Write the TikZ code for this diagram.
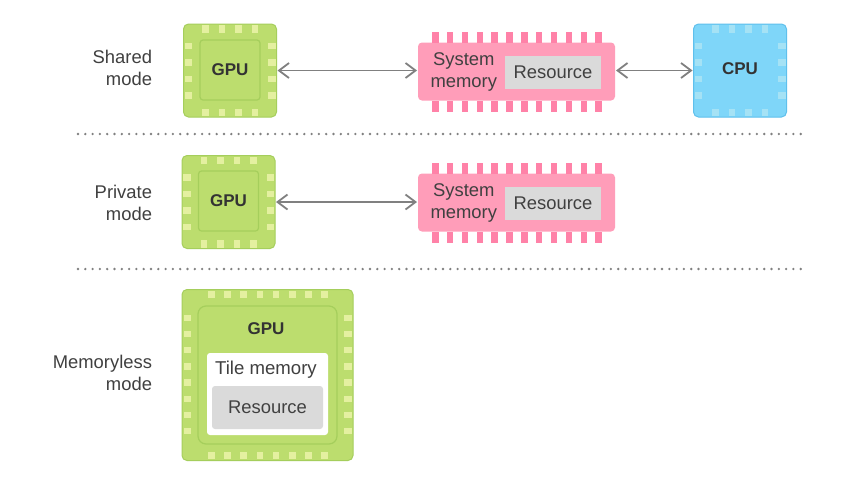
\documentclass[tikz,border=0pt]{standalone}
\usepackage{fontspec}
\setmainfont{Liberation Sans}
\usepackage{xcolor}
\usetikzlibrary{arrows.meta, positioning}

\definecolor{gpufill}{HTML}{BCDD6E}
\definecolor{gpuline}{HTML}{A5CE5C}
\definecolor{gpupad}{HTML}{E4F0A0}
\definecolor{memfill}{HTML}{FF9DB9}
\definecolor{mempin}{HTML}{FF82A8}
\definecolor{cpufill}{HTML}{7FD6F9}
\definecolor{cpuline}{HTML}{5FC0EC}
\definecolor{cpupad}{HTML}{A5E2F5}
\definecolor{resfill}{HTML}{DADADA}
\definecolor{linkgray}{HTML}{808080}

\tikzset{
    every node/.style={font=\fontsize{18.4}{22}\selectfont, text=black!75, outer sep=0pt, inner sep=0pt},
    modelabel/.style={align=right, anchor=east},
    smallchip/.style={minimum width=93pt, minimum height=93pt, rounded corners=5pt, line width=1pt},
    gpuchip/.style={draw=gpuline, fill=gpufill},
    cpuchip/.style={draw=cpuline, fill=cpufill},
    gpucore/.style={draw=gpuline, fill=gpufill, rounded corners=3pt, line width=1.2pt},
    memchip/.style={fill=memfill, rounded corners=4pt, minimum width=197pt, minimum height=58pt},
    resbox/.style={fill=resfill, minimum width=96pt, minimum height=33pt},
    chiptext/.style={font=\fontsize{17}{21}\selectfont\bfseries, text=black!80},
    link/.style={{Straight Barb[length=10pt,width=15pt]}-{Straight Barb[length=10pt,width=15pt]}, draw=linkgray, line width=1.8pt, shorten <=1pt, shorten >=1pt},
    sepline/.style={draw=linkgray, line width=2.6pt, line cap=round, dash pattern=on 0pt off 7.3pt}
}

% pads of a square chip, around its centre
\newcommand{\chippads}[2]{
    \foreach \d in {-25,-8.5,8,24.5} {
        \fill[#2] ([xshift=\d pt-3pt, yshift=38pt]#1.center) rectangle ++(6.5pt,7.5pt);
        \fill[#2] ([xshift=\d pt-3pt, yshift=-45.5pt]#1.center) rectangle ++(6.5pt,7.5pt);
        \fill[#2] ([xshift=-45.5pt, yshift=\d pt-3pt]#1.center) rectangle ++(7.5pt,6.5pt);
        \fill[#2] ([xshift=38pt, yshift=\d pt-3pt]#1.center) rectangle ++(7.5pt,6.5pt);
    }
}
% pins of a memory chip
\newcommand{\mempins}[1]{
    \foreach \i in {0,...,11} {
        \fill[mempin] ([xshift=-84.5pt+14.85pt*\i, yshift=29pt]#1.center) rectangle ++(6.5pt,11pt);
        \fill[mempin] ([xshift=-84.5pt+14.85pt*\i, yshift=-29pt]#1.center) rectangle ++(6.5pt,-11pt);
    }
}

\begin{document}
\begin{tikzpicture}[x=1pt, y=-1pt]
    \useasboundingbox (0,0) rectangle (856,496);
    \fill[white] (0,0) rectangle (856,496);

    % shared
    \node[modelabel] (sharedlabel) at (152,68) {Shared\\mode};
    \node[smallchip, gpuchip] (gpuA) at (230,70.5) {};
    \chippads{gpuA}{gpupad}
    \node[gpucore, minimum width=60pt, minimum height=60pt, chiptext] (coreA) at (230,70) {GPU};
    \node[memchip] (memA) at (516.5,71.5) {};
    \mempins{memA}
    \node[resbox] (resA) at (553,72) {Resource};
    \node[align=center, left=8pt of resA.west] (sysA) {System\\memory};
    \node[smallchip, cpuchip] (cpuA) at (740,70.5) {};
    \chippads{cpuA}{cpupad}
    \node[chiptext] (cpuAtext) at (740,69) {CPU};
    \draw[link] (gpuA.east) -- (memA.west |- gpuA.east);
    \draw[link] (memA.east |- cpuA.west) -- (cpuA.west);

    \coordinate (sepAl) at (78,134);
    \coordinate (sepAr) at (804,134);
    \draw[sepline] (sepAl) -- (sepAr);

    % private
    \node[modelabel] (privatelabel) at (152,203) {Private\\mode};
    \node[smallchip, gpuchip] (gpuB) at (228.5,202) {};
    \chippads{gpuB}{gpupad}
    \node[gpucore, minimum width=60pt, minimum height=60pt, chiptext] (coreB) at (228.5,201) {GPU};
    \node[memchip] (memB) at (516.5,202.5) {};
    \mempins{memB}
    \node[resbox] (resB) at (553,203) {Resource};
    \node[align=center, left=8pt of resB.west] (sysB) {System\\memory};
    \draw[link] (gpuB.east) -- (memB.west |- gpuB.east);

    \coordinate (sepBl) at (78,269);
    \coordinate (sepBr) at (804,269);
    \draw[sepline] (sepBl) -- (sepBr);

    % memoryless
    \node[modelabel] (memorylesslabel) at (152,372.5) {Memoryless\\mode};
    \node[gpuchip, rounded corners=5pt, line width=1pt, minimum width=171pt, minimum height=171pt] (gpuC) at (267.5,375) {};
    \foreach \i in {0,...,7} {
        \fill[gpupad] ([xshift=-56.5pt+16.2pt*\i-3pt, yshift=77pt]gpuC.center) rectangle ++(6.5pt,7.5pt);
        \fill[gpupad] ([xshift=-56.5pt+16.2pt*\i-3pt, yshift=-84pt]gpuC.center) rectangle ++(6.5pt,7.5pt);
        \fill[gpupad] ([xshift=-84pt, yshift=57pt-16.2pt*\i-3pt]gpuC.center) rectangle ++(7.5pt,6.5pt);
        \fill[gpupad] ([xshift=76.5pt, yshift=57pt-16.2pt*\i-3pt]gpuC.center) rectangle ++(7.5pt,6.5pt);
    }
    \node[gpucore, rounded corners=8pt, minimum width=139pt, minimum height=138pt] (coreC) at (267.5,375) {};
    \node[chiptext] (gpuCtext) at (266,329) {GPU};
    \node[fill=white, rounded corners=3pt, minimum width=121pt, minimum height=82pt] (tile) at (267.5,394) {};
    \node[font=\fontsize{18.6}{22}\selectfont] (tiletext) at (266,369.5) {Tile memory};
    \node[fill=resfill, rounded corners=3pt, minimum width=111pt, minimum height=43pt] (resC) at (267.5,407.5) {Resource};
\end{tikzpicture}
\end{document}
